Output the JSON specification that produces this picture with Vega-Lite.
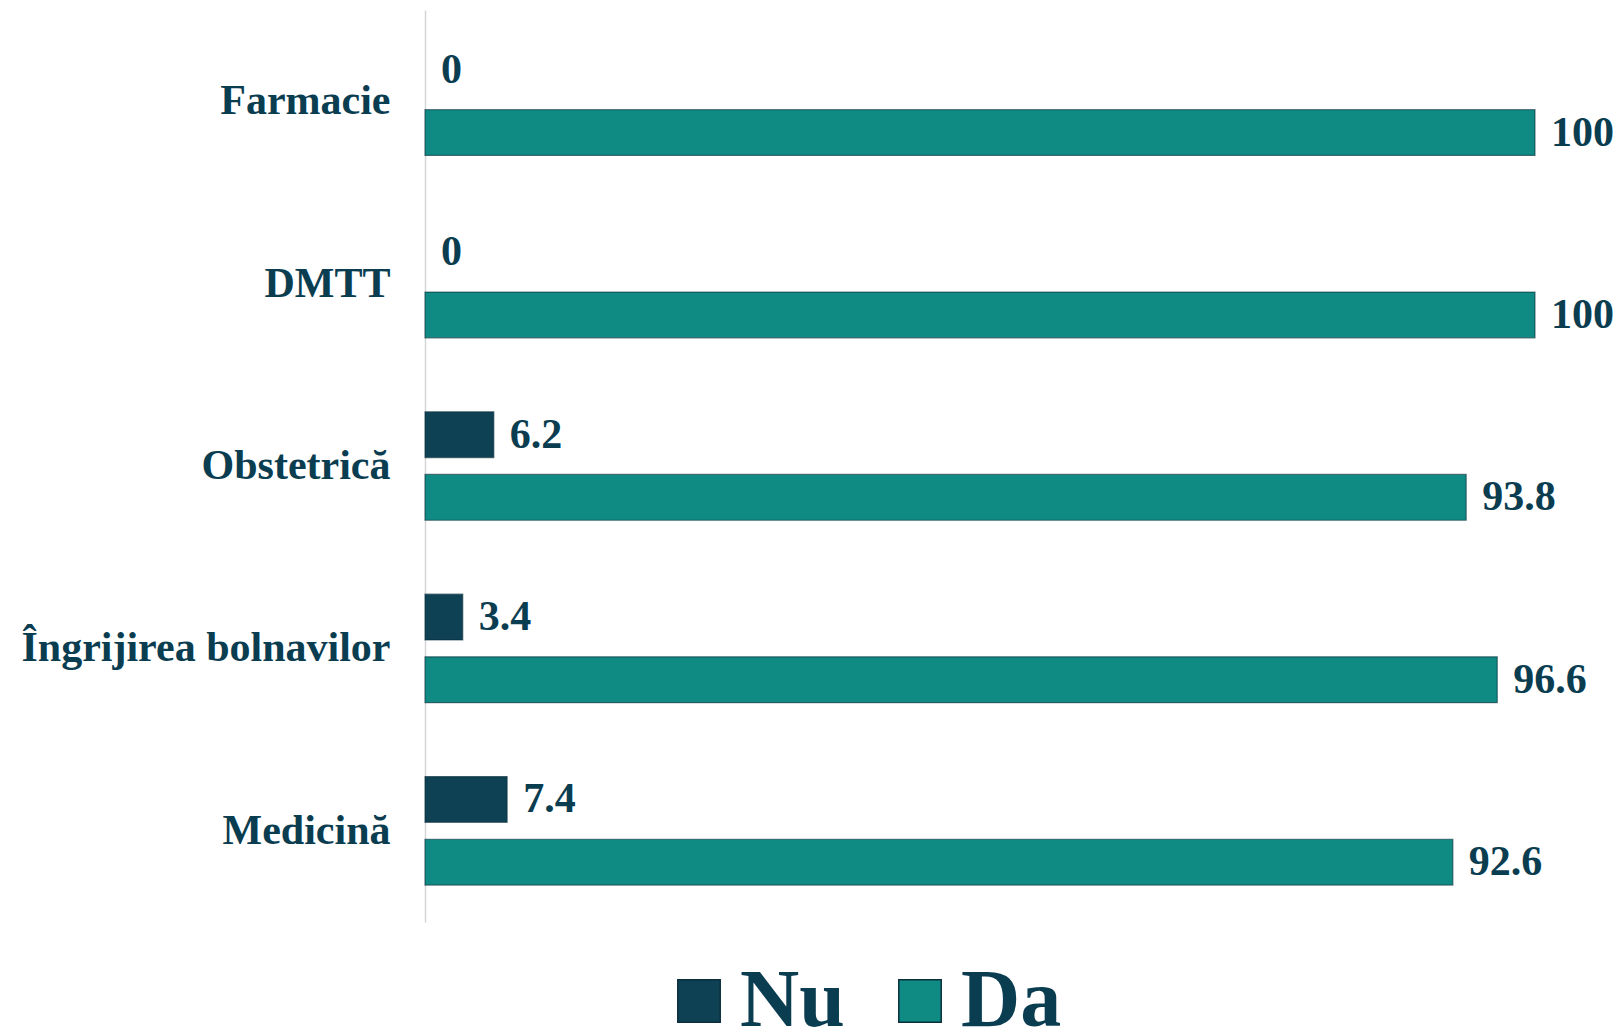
{
  "$schema": "https://vega.github.io/schema/vega-lite/v6.json",
  "autosize": {"type": "none"},
  "width": 1110,
  "height": 912,
  "padding": {"left": 425, "top": 10, "right": 85, "bottom": 110},
  "background": "white",
  "data": {
    "values": [
      {"cat": "Farmacie", "grp": "Nu", "val": 0},
      {"cat": "Farmacie", "grp": "Da", "val": 100},
      {"cat": "DMTT", "grp": "Nu", "val": 0},
      {"cat": "DMTT", "grp": "Da", "val": 100},
      {"cat": "Obstetrică", "grp": "Nu", "val": 6.2},
      {"cat": "Obstetrică", "grp": "Da", "val": 93.8},
      {"cat": "Îngrijirea bolnavilor", "grp": "Nu", "val": 3.4},
      {"cat": "Îngrijirea bolnavilor", "grp": "Da", "val": 96.6},
      {"cat": "Medicină", "grp": "Nu", "val": 7.4},
      {"cat": "Medicină", "grp": "Da", "val": 92.6}
    ]
  },
  "encoding": {
    "y": {
      "field": "cat", "type": "nominal",
      "sort": ["Farmacie", "DMTT", "Obstetrică", "Îngrijirea bolnavilor", "Medicină"],
      "scale": {"paddingInner": 0.405, "paddingOuter": 0.2025},
      "axis": {
        "title": null, "ticks": false, "domain": true, "domainColor": "#d6d6d6", "domainWidth": 1.5,
        "labelFont": "Liberation Serif", "labelFontWeight": "bold", "labelFontSize": 42,
        "labelColor": "#0b3d51", "labelPadding": 35, "labelLimit": 0
      }
    },
    "yOffset": {
      "field": "grp", "type": "nominal", "sort": ["Nu", "Da"],
      "scale": {"paddingInner": 0.27, "paddingOuter": 0}
    },
    "x": {
      "field": "val", "type": "quantitative",
      "scale": {"domain": [0, 100], "nice": false, "zero": true},
      "axis": null
    }
  },
  "layer": [
    {
      "mark": {"type": "bar", "stroke": "#0a2f3c", "strokeOpacity": 0.6},
      "encoding": {
        "strokeWidth": {"condition": {"test": "datum.val == 0", "value": 0}, "value": 1.2},
        "color": {
          "field": "grp", "type": "nominal",
          "scale": {"domain": ["Nu", "Da"], "range": ["#0e4153", "#0f8b84"]},
          "legend": {
            "title": null, "orient": "none", "direction": "horizontal",
            "legendX": 233, "legendY": 950,
            "symbolType": "square", "symbolSize": 1800, "symbolStrokeWidth": 1.5, "symbolStrokeColor": "#0a2f3c",
            "labelFont": "Liberation Serif", "labelFontWeight": "bold", "labelFontSize": 82,
            "labelColor": "#0b3d51", "labelOffset": 0, "columnPadding": 34, "labelLimit": 0
          }
        }
      }
    },
    {
      "mark": {
        "type": "text", "align": "left", "baseline": "middle", "dx": 16,
        "font": "Liberation Serif", "fontWeight": "bold", "fontSize": 42, "color": "#0b3d51"
      },
      "encoding": {
        "text": {"field": "val", "type": "quantitative", "format": ".1~f"}
      }
    }
  ],
  "config": {"view": {"stroke": null}}
}
